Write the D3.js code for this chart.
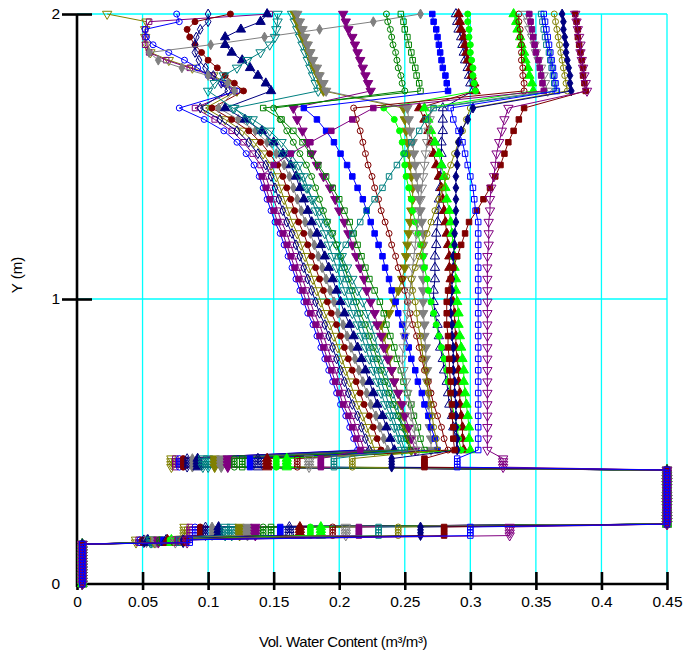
<!DOCTYPE html>
<html><head><meta charset="utf-8">
<script src="https://cdn.jsdelivr.net/npm/d3@7"></script>
<style>body{margin:0;background:#fff}svg{display:block}</style>
</head><body>
<svg id="chart" width="685" height="655"></svg>
<script>
// ---------- axis ticks ----------
const X_TICKS = [0,0.05,0.1,0.15,0.2,0.25,0.3,0.35,0.4,0.45];
const X_TICK_LABELS = ["0","0.05","0.1","0.15","0.2","0.25","0.3","0.35","0.4","0.45"];
const Y_TICKS = [0,1,2];
const Y_TICK_LABELS = ["0","1","2"];

// ---------- node elevations (m) ----------
const Y_BOTTOM = [0,0.01,0.02,0.03,0.04,0.05,0.06,0.07,0.08,0.09,0.10,0.11,0.12,0.13,0.14];
const Y_A = [0.145,0.155];
const Y_B = [0.17,0.18,0.19,0.20];
const Y_SAT = [0.21,0.22,0.23,0.24,0.25,0.26,0.27,0.28,0.29,0.30,0.31,0.32,0.33,0.34,0.35,0.36,0.37,0.38,0.39,0.40];
const Y_D = [0.41,0.42,0.43,0.44];
const Y_MID = [0.47,0.51,0.55,0.59,0.63,0.67,0.71,0.75,0.79,0.83,0.87,0.91,0.95,0.99,1.03,1.07,1.11,1.15,1.19,1.23,1.27,1.31,1.35,1.39,1.43,1.47,1.51,1.55,1.59,1.63,1.67];
const Y_TOP = [1.73,1.757,1.784,1.811,1.838,1.865,1.892,1.919,1.946,1.973,2.0];

const THETA_DRY = 0.004;
const THETA_SAT = 0.45;

// ---------- series styles ----------
const SERIES_COLOR = ["#808000","#800080","#0000ff","#800000","#000080","#808080","#000080","#008080",
  "#008080","#808000","#808080","#800080","#008000","#008000","#0000ff","#000080","#800000","#00ff00",
  "#00ff00","#800000","#808080","#800080","#008080","#808000","#000080","#800000","#800080","#0000ff"];
const SERIES_SHAPE = ["triDown","square","circle","circle","diamond","diamond","triUp","triDown",
  "triDown","triDown","triDown","triDown","circle","square","square","triUp","triUp","circle",
  "triUp","circle","triDown","square","square","circle","diamond","square","triDown","square"];
const SERIES_FILLED = [false,false,false,true,false,true,true,false,
  false,true,true,true,false,false,true,false,true,true,
  true,false,false,true,false,false,true,true,false,false];

// ---------- thin-layer water contents ----------
const THETA_A = [0.045,0.047,0.048,0.050,0.051,0.053,0.054,0.056,0.057,0.059,0.060,0.062,0.063,0.065,0.066,0.068,0.069,0.071,0.072,0.074,0.075,0.077,0.078,0.080,0.081,0.083,0.084,0.086];
const THETA_B = [0.082,0.086,0.090,0.094,0.098,0.103,0.108,0.113,0.118,0.124,0.130,0.136,0.142,0.148,0.155,0.162,0.170,0.178,0.186,0.195,0.205,0.215,0.230,0.245,0.262,0.280,0.330,0.300];
const THETA_D = [0.072,0.075,0.078,0.081,0.084,0.088,0.092,0.096,0.100,0.105,0.110,0.115,0.120,0.126,0.132,0.138,0.145,0.152,0.160,0.168,0.177,0.186,0.196,0.210,0.240,0.265,0.325,0.290];

// ---------- middle layer profiles (Y_MID) ----------
const mid01 = [0.227,0.224,0.221,0.218,0.214,0.211,0.208,0.205,0.202,0.199,0.196,0.193,0.189,0.186,0.183,0.180,0.177,0.174,0.171,0.168,0.164,0.161,0.158,0.155,0.152,0.148,0.142,0.135,0.126,0.113,0.098];
const mid02 = [0.219,0.216,0.213,0.210,0.206,0.203,0.200,0.197,0.194,0.191,0.188,0.185,0.181,0.178,0.175,0.172,0.169,0.166,0.163,0.160,0.156,0.153,0.150,0.147,0.144,0.140,0.134,0.127,0.118,0.105,0.090];
const mid03 = [0.214,0.211,0.208,0.205,0.201,0.198,0.195,0.192,0.189,0.186,0.183,0.180,0.176,0.173,0.170,0.167,0.164,0.161,0.158,0.155,0.151,0.148,0.145,0.142,0.139,0.135,0.129,0.122,0.112,0.097,0.078];
const mid04 = [0.232,0.229,0.226,0.223,0.219,0.216,0.213,0.210,0.207,0.204,0.201,0.198,0.194,0.191,0.188,0.185,0.182,0.179,0.176,0.173,0.169,0.166,0.163,0.160,0.157,0.153,0.147,0.140,0.131,0.118,0.103];
const mid05 = [0.223,0.220,0.217,0.214,0.210,0.207,0.204,0.201,0.198,0.195,0.192,0.189,0.185,0.182,0.179,0.176,0.173,0.170,0.167,0.164,0.160,0.157,0.154,0.151,0.148,0.144,0.138,0.131,0.122,0.109,0.094];
const mid06 = [0.237,0.234,0.231,0.228,0.224,0.221,0.218,0.215,0.212,0.209,0.206,0.203,0.199,0.196,0.193,0.190,0.187,0.184,0.181,0.178,0.174,0.171,0.168,0.165,0.162,0.158,0.152,0.145,0.136,0.123,0.108];
const mid07 = [0.242,0.239,0.236,0.233,0.229,0.226,0.223,0.220,0.217,0.214,0.211,0.208,0.204,0.201,0.198,0.195,0.192,0.189,0.186,0.183,0.179,0.176,0.173,0.170,0.167,0.163,0.157,0.150,0.141,0.128,0.113];
const mid08 = [0.248,0.245,0.242,0.239,0.235,0.232,0.229,0.226,0.223,0.220,0.217,0.214,0.210,0.207,0.204,0.201,0.198,0.195,0.192,0.189,0.185,0.182,0.179,0.176,0.173,0.169,0.163,0.156,0.147,0.134,0.119];
const mid09 = [0.255,0.252,0.249,0.246,0.244,0.241,0.238,0.235,0.232,0.229,0.227,0.224,0.221,0.218,0.214,0.210,0.206,0.202,0.198,0.194,0.190,0.185,0.180,0.175,0.170,0.165,0.157,0.149,0.140,0.130,0.120];
const mid10 = [0.255,0.253,0.251,0.249,0.247,0.245,0.242,0.240,0.238,0.236,0.234,0.232,0.238,0.242,0.245,0.248,0.250,0.251,0.252,0.253,0.254,0.255,0.256,0.256,0.255,0.254,0.253,0.252,0.251,0.250,0.249];
const mid11 = [0.270,0.270,0.269,0.269,0.268,0.268,0.267,0.267,0.266,0.266,0.265,0.265,0.264,0.264,0.264,0.264,0.264,0.264,0.264,0.264,0.263,0.262,0.261,0.260,0.259,0.258,0.257,0.256,0.254,0.253,0.252];
const mid12 = [0.258,0.255,0.253,0.250,0.248,0.245,0.242,0.240,0.237,0.234,0.232,0.229,0.227,0.224,0.221,0.219,0.216,0.213,0.210,0.207,0.204,0.200,0.197,0.193,0.188,0.183,0.179,0.176,0.172,0.168,0.165];
const mid13 = [0.254,0.251,0.248,0.245,0.241,0.238,0.235,0.232,0.229,0.226,0.223,0.220,0.216,0.213,0.210,0.207,0.204,0.201,0.198,0.195,0.191,0.188,0.185,0.182,0.179,0.175,0.170,0.165,0.160,0.155,0.150];
const mid14 = [0.265,0.262,0.260,0.257,0.255,0.252,0.249,0.247,0.244,0.242,0.239,0.236,0.234,0.231,0.227,0.223,0.220,0.217,0.214,0.211,0.208,0.204,0.200,0.195,0.190,0.184,0.178,0.172,0.165,0.156,0.142];
const mid15 = [0.275,0.273,0.270,0.268,0.265,0.263,0.260,0.258,0.255,0.253,0.250,0.248,0.245,0.243,0.240,0.238,0.235,0.233,0.230,0.227,0.224,0.221,0.218,0.214,0.210,0.206,0.201,0.196,0.190,0.183,0.173];
const mid16 = [0.290,0.289,0.287,0.286,0.284,0.283,0.282,0.280,0.279,0.277,0.276,0.275,0.273,0.272,0.272,0.273,0.273,0.273,0.274,0.274,0.275,0.276,0.276,0.277,0.277,0.278,0.278,0.278,0.279,0.279,0.279];
const mid17 = [0.295,0.294,0.294,0.293,0.292,0.292,0.291,0.291,0.290,0.289,0.289,0.288,0.288,0.287,0.285,0.285,0.284,0.284,0.283,0.282,0.281,0.280,0.279,0.278,0.276,0.274,0.272,0.270,0.268,0.265,0.261];
const mid18 = [0.293,0.291,0.290,0.288,0.286,0.285,0.283,0.282,0.280,0.278,0.276,0.274,0.272,0.270,0.268,0.267,0.265,0.264,0.262,0.260,0.258,0.256,0.255,0.253,0.251,0.250,0.249,0.248,0.246,0.242,0.234];
const mid19 = [0.300,0.299,0.299,0.298,0.297,0.296,0.295,0.295,0.294,0.293,0.292,0.291,0.291,0.290,0.289,0.289,0.288,0.288,0.287,0.286,0.285,0.284,0.282,0.281,0.280,0.278,0.276,0.273,0.270,0.268,0.265];
const mid20 = [0.283,0.280,0.278,0.275,0.272,0.270,0.268,0.265,0.263,0.261,0.259,0.256,0.254,0.252,0.250,0.248,0.245,0.243,0.240,0.238,0.235,0.232,0.230,0.227,0.225,0.222,0.220,0.218,0.216,0.213,0.211];
const mid21 = [0.260,0.258,0.257,0.255,0.254,0.252,0.251,0.249,0.248,0.249,0.250,0.251,0.252,0.253,0.254,0.255,0.256,0.257,0.258,0.259,0.260,0.261,0.262,0.263,0.264,0.265,0.266,0.267,0.268,0.269,0.270];
const mid22 = [0.216,0.213,0.210,0.207,0.203,0.200,0.197,0.194,0.191,0.188,0.185,0.182,0.178,0.175,0.172,0.169,0.166,0.163,0.160,0.157,0.153,0.150,0.147,0.144,0.141,0.150,0.163,0.178,0.194,0.210,0.226];
const mid23 = [0.250,0.247,0.244,0.241,0.238,0.235,0.232,0.229,0.226,0.223,0.220,0.217,0.214,0.211,0.208,0.205,0.202,0.199,0.205,0.210,0.216,0.221,0.227,0.233,0.238,0.244,0.250,0.255,0.261,0.266,0.272];
const mid24 = [0.275,0.274,0.272,0.271,0.270,0.268,0.267,0.266,0.264,0.263,0.262,0.260,0.259,0.258,0.256,0.255,0.258,0.261,0.264,0.267,0.270,0.273,0.276,0.279,0.282,0.285,0.288,0.291,0.294,0.297,0.300];
const mid25 = [0.290,0.290,0.289,0.289,0.289,0.288,0.288,0.287,0.287,0.287,0.286,0.286,0.285,0.285,0.286,0.286,0.287,0.287,0.288,0.288,0.289,0.289,0.289,0.289,0.289,0.290,0.290,0.291,0.293,0.298,0.302];
const mid26 = [0.288,0.287,0.287,0.286,0.286,0.285,0.285,0.284,0.284,0.283,0.283,0.282,0.282,0.282,0.283,0.285,0.287,0.290,0.293,0.296,0.299,0.305,0.310,0.315,0.319,0.323,0.326,0.329,0.333,0.337,0.341];
const mid27 = [0.313,0.313,0.313,0.313,0.313,0.313,0.313,0.313,0.313,0.313,0.313,0.313,0.313,0.313,0.313,0.313,0.313,0.313,0.314,0.314,0.314,0.315,0.315,0.316,0.318,0.319,0.320,0.322,0.324,0.326,0.329];
const mid28 = [0.306,0.306,0.306,0.306,0.306,0.306,0.306,0.306,0.306,0.306,0.306,0.306,0.306,0.306,0.306,0.306,0.306,0.306,0.306,0.306,0.306,0.304,0.303,0.302,0.300,0.298,0.296,0.294,0.291,0.287,0.285];

// ---------- top layer profiles (Y_TOP) ----------
const top01 = [0.122,0.114,0.104,0.088,0.070,0.056,0.053,0.052,0.052,0.053,0.023];
const top02 = [0.120,0.112,0.103,0.086,0.068,0.055,0.052,0.052,0.052,0.055,0.147];
const top03 = [0.122,0.112,0.100,0.092,0.082,0.070,0.058,0.053,0.052,0.078,0.076];
const top04 = [0.127,0.120,0.113,0.107,0.100,0.095,0.090,0.086,0.084,0.090,0.117];
const top05 = [0.115,0.110,0.104,0.098,0.093,0.090,0.090,0.091,0.094,0.100,0.100];
const top06 = [0.120,0.115,0.100,0.080,0.062,0.055,0.102,0.143,0.185,0.226,0.262];
const top07 = [0.148,0.144,0.138,0.132,0.126,0.118,0.113,0.113,0.125,0.140,0.145];
const top08 = [0.100,0.105,0.112,0.122,0.130,0.140,0.147,0.151,0.152,0.153,0.153];
const top09 = [0.184,0.182,0.180,0.178,0.176,0.174,0.172,0.170,0.168,0.166,0.164];
const top10 = [0.188,0.186,0.184,0.181,0.179,0.177,0.175,0.172,0.170,0.168,0.166];
const top11 = [0.190,0.188,0.185,0.183,0.180,0.178,0.176,0.174,0.172,0.170,0.168];
const top12 = [0.224,0.222,0.220,0.218,0.216,0.214,0.212,0.210,0.207,0.205,0.203];
const top13 = [0.250,0.248,0.247,0.245,0.244,0.243,0.241,0.240,0.239,0.237,0.236];
const top14 = [0.262,0.261,0.259,0.258,0.256,0.255,0.253,0.252,0.250,0.249,0.247];
const top15 = [0.283,0.282,0.281,0.279,0.278,0.277,0.276,0.275,0.274,0.272,0.271];
const top16 = [0.302,0.300,0.299,0.298,0.296,0.295,0.294,0.293,0.291,0.290,0.289];
const top17 = [0.304,0.303,0.301,0.300,0.298,0.297,0.296,0.295,0.293,0.292,0.291];
const top18 = [0.304,0.303,0.302,0.302,0.301,0.300,0.300,0.299,0.299,0.298,0.298];
const top19 = [0.348,0.347,0.345,0.344,0.342,0.341,0.339,0.338,0.336,0.335,0.333];
const top20 = [0.341,0.341,0.340,0.340,0.339,0.339,0.339,0.338,0.338,0.337,0.337];
const top21 = [0.359,0.357,0.356,0.354,0.352,0.350,0.349,0.347,0.345,0.344,0.342];
const top22 = [0.356,0.355,0.354,0.353,0.352,0.350,0.349,0.348,0.347,0.346,0.345];
const top23 = [0.365,0.364,0.363,0.362,0.361,0.360,0.358,0.357,0.356,0.355,0.354];
const top24 = [0.374,0.373,0.372,0.371,0.370,0.369,0.368,0.367,0.366,0.365,0.364];
const top25 = [0.377,0.376,0.376,0.375,0.374,0.373,0.373,0.372,0.371,0.371,0.370];
const top26 = [0.388,0.387,0.386,0.386,0.385,0.384,0.383,0.382,0.382,0.381,0.380];
const top27 = [0.389,0.388,0.387,0.386,0.385,0.384,0.384,0.383,0.382,0.381,0.380];
const top28 = [0.366,0.365,0.364,0.363,0.362,0.361,0.360,0.359,0.358,0.357,0.356];

const MID = [mid01,mid02,mid03,mid04,mid05,mid06,mid07,mid08,mid09,mid10,mid11,mid12,mid13,mid14,
  mid15,mid16,mid17,mid18,mid19,mid20,mid21,mid22,mid23,mid24,mid25,mid26,mid27,mid28];
const TOP = [top01,top02,top03,top04,top05,top06,top07,top08,top09,top10,top11,top12,top13,top14,
  top15,top16,top17,top18,top19,top20,top21,top22,top23,top24,top25,top26,top27,top28];

// ---------- build series ----------
const series = SERIES_COLOR.map((c, i) => {
  const pts = [];
  Y_BOTTOM.forEach(v => pts.push([THETA_DRY, v]));
  Y_A.forEach(v => pts.push([THETA_A[i], v]));
  Y_B.forEach(v => pts.push([THETA_B[i], v]));
  Y_SAT.forEach(v => pts.push([THETA_SAT, v]));
  Y_D.forEach(v => pts.push([THETA_D[i], v]));
  Y_MID.forEach((v, k) => pts.push([MID[i][k], v]));
  Y_TOP.forEach((v, k) => pts.push([TOP[i][k], v]));
  return {color: c, shape: SERIES_SHAPE[i], filled: SERIES_FILLED[i], pts};
});

// ---------- drawing ----------
const svg = d3.select("#chart");
const x = d3.scaleLinear().domain([0, 0.45]).range([77, 667]);
const y = d3.scaleLinear().domain([0, 2]).range([584, 14]);
const FONT = "'Liberation Sans', Arial, sans-serif";

// grid
const grid = svg.append("g");
grid.selectAll("line.vx").data(X_TICKS.filter(t => t > 0)).join("line")
  .attr("x1", d => x(d)).attr("x2", d => x(d)).attr("y1", y(0)).attr("y2", y(2))
  .attr("stroke", "#00ffff").attr("stroke-width", 1.3);
grid.selectAll("line.hy").data(Y_TICKS.filter(t => t > 0)).join("line")
  .attr("x1", x(0)).attr("x2", x(0.45)).attr("y1", d => y(d)).attr("y2", d => y(d))
  .attr("stroke", "#00ffff").attr("stroke-width", 1.3);

// axes
const xAxis = svg.append("g").attr("transform", `translate(0,${y(0)})`)
  .call(d3.axisBottom(x).tickValues(X_TICKS).tickSizeInner(6).tickSizeOuter(0).tickPadding(6)
    .tickFormat((d, i) => X_TICK_LABELS[i]));
const xAxisUp = svg.append("g").attr("transform", `translate(0,${y(0)})`)
  .call(d3.axisTop(x).tickValues(X_TICKS.filter(t => t > 0)).tickSize(12).tickFormat(""));
const yAxis = svg.append("g").attr("transform", `translate(${x(0)},0)`)
  .call(d3.axisLeft(y).tickValues(Y_TICKS).tickSizeInner(15).tickSizeOuter(0).tickPadding(2)
    .tickFormat((d, i) => Y_TICK_LABELS[i]));
const yAxisR = svg.append("g").attr("transform", `translate(${x(0)},0)`)
  .call(d3.axisRight(y).tickValues(Y_TICKS.filter(t => t > 0)).tickSize(15).tickFormat(""));
yAxisR.select(".domain").remove();
xAxisUp.select(".domain").remove();
[xAxis, xAxisUp, yAxis, yAxisR].forEach(g => {
  g.selectAll("path.domain").attr("stroke", "#000").attr("stroke-width", 2.6);
  g.selectAll(".tick line").attr("stroke", "#000").attr("stroke-width", 2.6);
});
yAxis.selectAll(".tick").filter(d => d === 0).select("line").remove();
yAxis.select(".domain").attr("d", `M0,${y(2)}V${y(0) + 3}`);
xAxis.select(".domain").attr("d", `M${x(0)},0H${x(0.45)}`);
[xAxis, yAxis].forEach(g => g.selectAll(".tick text")
  .attr("fill", "#000").style("font-family", FONT).style("font-size", "15.5px"));

// series
const line = d3.line().x(d => x(d[0])).y(d => y(d[1]));
const SYM = {circle: d3.symbolCircle, square: d3.symbolSquare, triUp: d3.symbolTriangle,
  triDown: d3.symbolTriangle, diamond: d3.symbolDiamond};
const SIZE = {circle: 28, square: 30, triUp: 38, triDown: 38, diamond: 28};
const data = svg.append("g");
series.forEach(s => {
  const g = data.append("g");
  g.append("path").attr("d", line(s.pts)).attr("fill", "none")
    .attr("stroke", s.color).attr("stroke-width", 1);
  const sym = d3.symbol().type(SYM[s.shape]).size(SIZE[s.shape]);
  g.selectAll("path.m").data(s.pts).join("path").attr("class", "m")
    .attr("d", sym)
    .attr("transform", d => `translate(${x(d[0])},${y(d[1])})` + (s.shape === "triDown" ? " rotate(180)" : ""))
    .attr("fill", s.filled ? s.color : "none")
    .attr("stroke", s.color).attr("stroke-width", 1);
});

// titles
svg.append("text").attr("x", 343).attr("y", 647).attr("text-anchor", "middle")
  .style("font-family", FONT).style("font-size", "15px").style("letter-spacing", "-0.4px")
  .text("Vol. Water Content (m³/m³)");
svg.append("text").attr("transform", "translate(22,275) rotate(-90)").attr("text-anchor", "middle")
  .style("font-family", FONT).style("font-size", "15px")
  .text("Y (m)");
</script>
</body></html>
